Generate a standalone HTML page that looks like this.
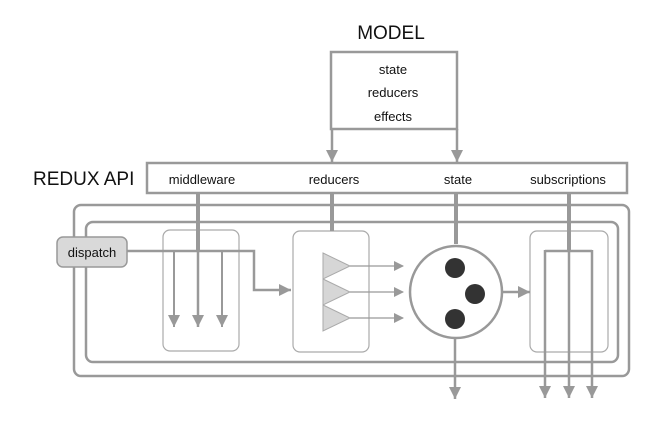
<!DOCTYPE html>
<html><head><style>body{margin:0;background:#fff}svg{display:block}</style></head><body>
<svg width="667" height="425" viewBox="0 0 667 425" xmlns="http://www.w3.org/2000/svg" font-family="Liberation Sans, sans-serif">
<defs><marker id="a" markerWidth="10" markerHeight="10" refX="9" refY="5" orient="auto" markerUnits="userSpaceOnUse"><path d="M0,0 L10,5 L0,10 Z" fill="#999"/></marker>
<marker id="b" markerWidth="12" markerHeight="12" refX="12" refY="6" orient="auto" markerUnits="userSpaceOnUse"><path d="M0,0 L12,6 L0,12 Z" fill="#999"/></marker></defs>
<g fill="none" stroke="#999">
<text x="391" y="39" font-size="19" fill="#111" stroke="none" text-anchor="middle">MODEL</text>
<rect x="331" y="52" width="126" height="77" stroke-width="2.5"/>
<line x1="332" y1="129" x2="332" y2="162" stroke-width="2.5" marker-end="url(#b)"/>
<line x1="457" y1="129" x2="457" y2="162" stroke-width="2.5" marker-end="url(#b)"/>
<g fill="#111" stroke="none" font-size="13" text-anchor="middle"><text x="393" y="74">state</text><text x="393" y="97">reducers</text><text x="393" y="121">effects</text></g>
<text x="33" y="185" font-size="19" fill="#111" stroke="none">REDUX API</text>
<rect x="147" y="163" width="480" height="30" stroke-width="2.5"/>
<g fill="#111" stroke="none" font-size="13" text-anchor="middle"><text x="202" y="184">middleware</text><text x="334" y="184">reducers</text><text x="458" y="184">state</text><text x="568" y="184">subscriptions</text></g>
<rect x="74" y="205" width="555" height="171" rx="7" stroke-width="2.5"/>
<rect x="86" y="222" width="532" height="140" rx="7" stroke-width="2.5"/>
<rect x="163" y="230" width="76" height="121" rx="7" stroke="#aaa" stroke-width="1.2"/>
<rect x="293" y="231" width="76" height="121" rx="7" stroke="#aaa" stroke-width="1.2"/>
<rect x="530" y="231" width="78" height="121" rx="7" stroke="#aaa" stroke-width="1.2"/>
<rect x="57" y="237" width="70" height="30" rx="6" fill="#d9d9d9" stroke="#999" stroke-width="1.5"/>
<text x="92" y="257" font-size="13" fill="#111" stroke="none" text-anchor="middle">dispatch</text>
<line x1="198" y1="193" x2="198" y2="251" stroke-width="4"/>
<polyline points="127,251 254,251 254,290 291,290" stroke-width="2.5" marker-end="url(#b)"/>
<polyline points="174,326 174,251 222,251 222,326" stroke-width="2"/>
<line x1="174" y1="251" x2="174" y2="327" stroke-width="2" marker-end="url(#b)"/>
<line x1="198" y1="251" x2="198" y2="327" stroke-width="2.5" marker-end="url(#b)"/>
<line x1="222" y1="251" x2="222" y2="327" stroke-width="2" marker-end="url(#b)"/>
<line x1="332" y1="193" x2="332" y2="231" stroke-width="4"/>
<g fill="#d6d6d6" stroke="#aaa" stroke-width="1"><path d="M323,253 L350,266 L323,279 Z"/><path d="M323,279 L350,292 L323,305 Z"/><path d="M323,305 L350,318 L323,331 Z"/></g>
<line x1="350" y1="266" x2="403" y2="266" stroke-width="1.2" marker-end="url(#a)"/>
<line x1="350" y1="292" x2="403" y2="292" stroke-width="1.2" marker-end="url(#a)"/>
<line x1="350" y1="318" x2="403" y2="318" stroke-width="1.2" marker-end="url(#a)"/>
<line x1="456" y1="193" x2="456" y2="244" stroke-width="4"/>
<circle cx="456" cy="292" r="46" stroke-width="2.5" fill="#fff"/>
<g fill="#333" stroke="none"><circle cx="455" cy="268" r="10"/><circle cx="475" cy="294" r="10"/><circle cx="455" cy="319" r="10"/></g>
<line x1="502" y1="292" x2="530" y2="292" stroke-width="2.5" marker-end="url(#b)"/>
<line x1="455" y1="338" x2="455" y2="399" stroke-width="2.5" marker-end="url(#b)"/>
<line x1="569" y1="193" x2="569" y2="251" stroke-width="4"/>
<line x1="545" y1="251" x2="592" y2="251" stroke-width="2.5"/>
<line x1="545" y1="250" x2="545" y2="398" stroke-width="2.5" marker-end="url(#b)"/>
<line x1="569" y1="250" x2="569" y2="398" stroke-width="2.5" marker-end="url(#b)"/>
<line x1="592" y1="250" x2="592" y2="398" stroke-width="2.5" marker-end="url(#b)"/>
</g>
</svg>
</body></html>
